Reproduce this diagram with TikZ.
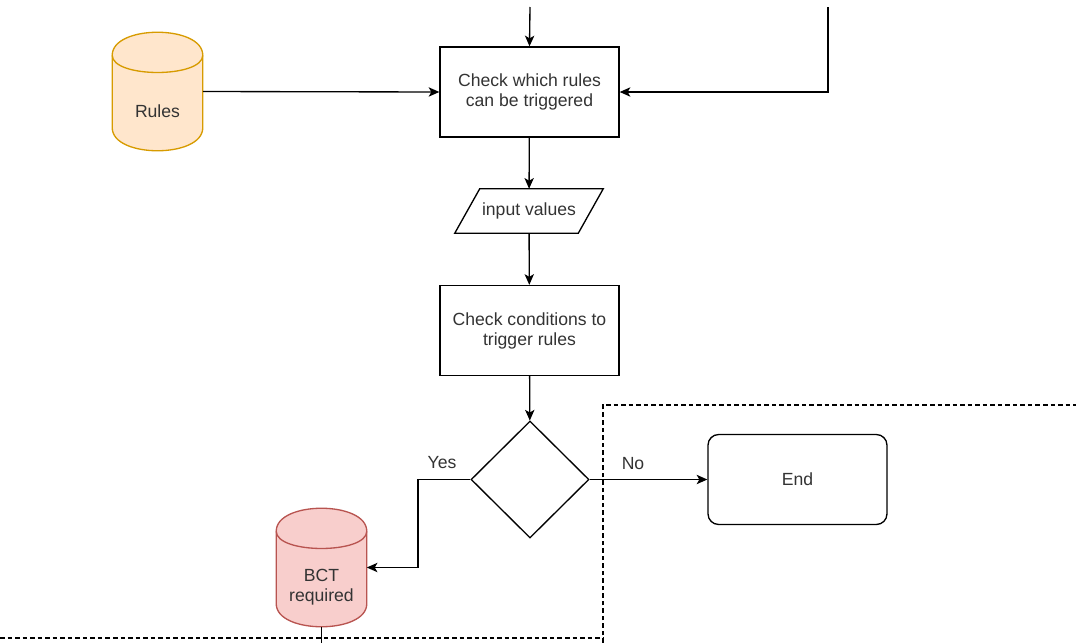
\documentclass[tikz,border=0pt]{standalone}
\usepackage{fontspec}
\setmainfont{Liberation Sans}
\usetikzlibrary{arrows.meta,shapes.geometric,calc,backgrounds}

\definecolor{rulesfill}{HTML}{FFE6CC}
\definecolor{rulesline}{HTML}{D79B00}
\definecolor{bctfill}{HTML}{F8CECC}
\definecolor{bctline}{HTML}{B85450}
\definecolor{ink}{HTML}{333333}

\newcommand\lblfont{\fontsize{13.2pt}{15pt}\selectfont}
% depth of the cylinder cap, in picture units
\def\capd{23}
% cylinder outline drawn round a named node: node, fill, stroke
\newcommand\drawcyl[3]{%
  \draw[cylline, fill=#2, draw=#3]
    ($(#1.north west)+(0,\capd)$)
      .. controls ($(#1.north west)+(0,-\capd/3)$) and ($(#1.north east)+(0,-\capd/3)$) .. ($(#1.north east)+(0,\capd)$)
      -- ($(#1.south east)+(0,-\capd)$)
      .. controls ($(#1.south east)+(0,\capd/3)$) and ($(#1.south west)+(0,\capd/3)$) .. ($(#1.south west)+(0,-\capd)$)
      -- cycle;
  \draw[cylline, draw=#3]
    ($(#1.north west)+(0,\capd)$)
      .. controls ($(#1.north west)+(0,2*\capd)$) and ($(#1.north east)+(0,2*\capd)$) .. ($(#1.north east)+(0,\capd)$);
}

\begin{document}
\begin{tikzpicture}[x=0.75pt,y=-0.75pt,
  every node/.style={font=\lblfont, text=ink},
  flow/.style={draw=black, line width=1pt, -{Stealth[length=8pt,width=7pt,inset=2pt]}},
  plain/.style={draw=black, line width=1pt},
  process/.style={draw=black, line width=1pt, fill=white, minimum width=179*0.75pt,
    minimum height=90*0.75pt, inner sep=0pt, align=center},
  cylnode/.style={minimum width=90*0.75pt, minimum height=118*0.75pt, inner sep=0pt},
  cylline/.style={line width=1pt},
  cyltext/.style={label={[font=\lblfont, text=ink, align=center, yshift=-15pt]center:#1}},
  boundary/.style={draw=black, line width=0.9pt, dash pattern=on 3.4pt off 2.25pt}]

\useasboundingbox (0,0) rectangle (1076,643);

% nodes
\node[process] (trig) at (529.5,92) {Check which rules\\can be triggered};
\node[cylnode, cyltext=Rules] (rules) at (157.5,91.5) {};
\node[minimum width=148*0.75pt, minimum height=44*0.75pt, inner sep=0pt] (input) at (529,211) {input values};
\node[process] (cond) at (529.5,330.5) {Check conditions to\\trigger rules};
\node[diamond, draw=black, fill=white, line width=1pt, minimum width=118*0.75pt,
  minimum height=117*0.75pt, inner sep=0pt] (dec) at (530,479.5) {};
\node[process, rounded corners=8pt] (end) at (797.5,479.5) {End};
\node[cylnode, cyltext={BCT\\required}] (bct) at (321.5,567.5) {};

\begin{pgfonlayer}{background}
  \drawcyl{rules}{rulesfill}{rulesline}
  \drawcyl{bct}{bctfill}{bctline}
\end{pgfonlayer}

% data parallelogram
\draw[plain] ([xshift=18.75pt]input.north west) -- (input.north east)
  -- ([xshift=-18.75pt]input.south east) -- (input.south west) -- cycle;

% free ends and bends
\coordinate (topin) at (530,7);
\coordinate (loopin) at (828,7);
\coordinate (yesbend) at (418,479.5);
\coordinate (bctout) at (321.5,643);

% connectors
\draw[flow] (topin) -- (trig.north);
\draw[flow] (loopin) |- (trig.east);
\draw[flow] (rules.east) -- (trig.west);
\draw[flow] (trig) -- (input);
\draw[flow] (input) -- (cond);
\draw[flow] (cond) -- (dec);
\draw[flow] (dec.west) -- (yesbend) |- (bct.east);
\draw[flow] (dec.east) -- (end.west);
\draw[plain] (bct.south) -- (bctout);

\node (yes) at (442,463) {Yes};
\node (no) at (633,464) {No};

% dashed boundary
\coordinate (b1) at (0,638);
\coordinate (b2) at (603,638);
\coordinate (b3) at (603,643);
\coordinate (b4) at (603,405);
\coordinate (b5) at (1076,405);
\draw[boundary] (b1) -- (b2);
\draw[boundary] (b3) -- (b4) -- (b5);
\end{tikzpicture}
\end{document}
